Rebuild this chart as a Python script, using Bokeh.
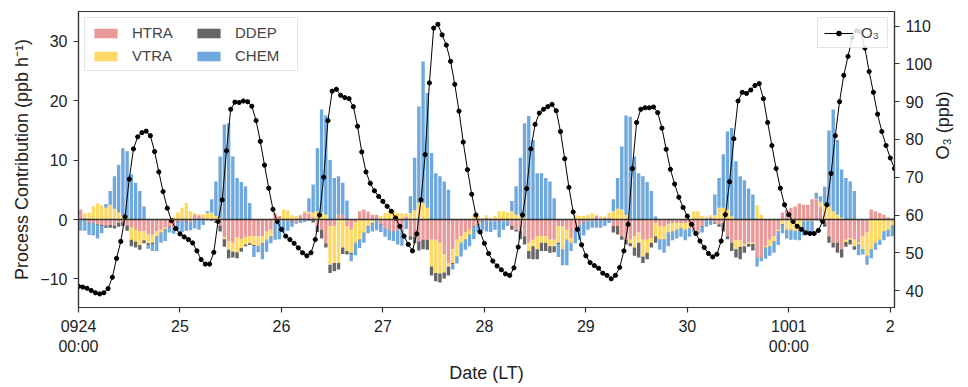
import math
from bokeh.plotting import figure
from bokeh.models import (Range1d, LinearAxis, FixedTicker, Span, Legend,
                          LegendItem, ColumnDataSource)
from bokeh.embed import file_html
from bokeh.resources import INLINE

# ---- data: hourly process contributions (ppb/h), 09-24 00:00 .. 10-02 00:00 ----
HTRA = [1.7, 0.3, -0.6, -0.4, -0.8, -0.9, -1.0, -0.9, -1.0, -0.6, -0.4, -1.0,
        -1.4, -1.7, -2.0, -2.0, -2.5, -2.5, -2.0, -1.7, -1.4, -1.1, -1.6, -0.3,
        -0.2, -0.3, -0.4, 0.8, 0.7, 0.3, 0.2, 0.1, -0.3, -1.0, -3.0, -3.6,
        -3.9, -3.0, -3.3, -3.0, -2.8, -2.8, -2.8, -2.8, -2.0, -1.7, 1.0, 0.6,
        -0.2, -0.2, -0.3, -0.4, 0.7, 1.2, 1.0, 0.4, -1.1, -1.7, -4.0, -1.1,
        -1.1, 0.8, 0.8, -1.1, -1.7, -0.5, 1.4, 1.7, 1.3, 0.8, 0.8, -0.8,
        -1.4, -1.7, -2.0, -1.7, -1.7, 0.5, -2.8, -2.8, -3.7, -3.4, -3.4, -3.4,
        -3.4, -3.9, -5.9, -7.3, -5.0, -3.4, -2.8, -2.2, -1.7, -1.1, -0.8, -0.3,
        0.3, -0.2, -0.2, -0.3, -0.2, -0.2, -1.1, -1.7, -1.9, -2.8, -3.9, -3.4,
        -2.8, -2.8, -2.8, -3.4, -3.4, -1.1, -1.1, -1.7, -3.1, -1.7, -1.0, -0.5,
        -0.2, -0.2, 0.6, 0.2, 0.3, 0.3, -1.1, -1.1, -2.8, -3.4, -3.4, -2.8,
        -2.2, -3.4, -3.4, -3.1, -0.6, -1.1, -1.1, -0.8, -0.6, -0.6, -0.6, -0.6,
        -0.6, -1.7, -2.2, -1.1, 0.2, 0.4, -0.5, -0.8, -0.6, -2.8, -3.9, -3.5,
        -3.5, -4.2, -3.9, -3.9, -6.4, -6.4, -4.5, -3.4, -2.8, -1.7, 1.2, 1.6,
        2.0, 2.2, 2.7, 2.5, 2.5, 3.4, 3.4, 2.2, -0.6, -2.8, -3.9, -3.9,
        -5.0, -3.4, -3.1, -3.4, -3.9, -2.8, -2.2, 1.7, 1.4, 1.1, 0.8, 0.4,
        0.2]
VTRA = [0.0, 0.7, 1.2, 2.2, 2.7, 2.4, 2.0, 2.5, 1.8, 1.2, 0.6, 0.3,
        -2.0, -2.0, -2.3, -1.5, -1.5, -1.4, -0.8, -0.5, -0.2, 0.1, 0.4, 1.2,
        2.0, 2.8, 1.4, 0.3, 0.2, 0.6, 0.9, 1.1, 0.6, 0.2, -0.3, -1.5,
        -1.5, -2.5, -1.5, -1.2, -1.2, -1.5, -1.6, -1.2, -1.4, -1.1, -0.4, -0.2,
        1.7, 1.5, 0.7, 0.6, 0.1, 0.2, 0.3, 0.8, 1.4, 1.2, 0.8, -6.5,
        -6.2, -7.3, -4.7, -4.2, -3.9, -3.4, -3.3, -2.2, -1.1, -0.6, -0.1, 0.6,
        1.1, 1.4, 1.4, 1.1, 1.0, 0.5, 1.1, 1.6, 2.8, 2.8, 2.0, -4.5,
        -5.6, -5.2, -3.0, -0.6, -2.3, -2.8, -1.1, -1.1, -0.8, 0.7, 0.6, 0.2,
        0.4, 0.2, 0.6, 1.4, 1.4, 1.2, 1.4, 0.8, 0.8, 0.3, -1.4, -1.1,
        -2.2, -1.1, -1.1, -1.1, -1.1, -2.8, -3.9, -1.7, -0.8, 0.8, 0.6, 0.6,
        0.8, 1.0, 0.2, 0.3, 0.2, 0.8, 1.4, 1.8, 1.7, 0.8, -0.6, -1.9,
        -1.7, -2.8, -2.2, -0.8, -2.2, -2.2, -2.2, -1.4, -1.4, -1.1, -0.8, -1.1,
        -0.8, 1.4, 1.4, 0.6, 0.3, 0.3, 0.7, 2.0, 2.0, 1.7, 0.5, -1.5,
        -1.1, -0.3, -0.2, -0.2, 2.4, 0.8, -0.2, -1.1, -0.9, -0.3, -0.8, -1.7,
        -1.7, -1.9, -1.7, -0.2, -0.2, -0.2, 0.1, 0.8, 2.5, 2.2, 1.4, 0.8,
        0.3, -0.4, -0.3, -1.1, -0.3, -2.2, -3.9, -5.0, -3.9, -3.4, -2.0, -1.7,
        -1.0]
DDEP = [-0.1, -0.1, -0.1, -0.1, -0.1, -0.2, -0.4, -0.5, -0.5, -0.6, -0.7, -0.9,
        -1.1, -1.0, -0.8, -0.5, -0.3, -0.2, -0.1, -0.1, -0.1, -0.1, -0.1, -0.1,
        -0.1, -0.1, -0.1, -0.1, -0.1, -0.1, -0.1, -0.2, -0.3, -1.0, -1.3, -1.4,
        -1.0, -1.0, -0.6, -0.3, -0.3, -0.2, -0.1, -0.1, -0.1, -0.1, -0.1, -0.1,
        -0.1, -0.1, -0.1, -0.1, -0.1, -0.1, -0.2, -0.5, -1.0, -1.5, -0.7, -1.4,
        -1.4, -1.1, -1.1, -0.6, -0.2, -0.1, -0.1, -0.1, -0.1, -0.1, -0.1, -0.1,
        -0.1, -0.1, -0.1, -0.1, -0.1, -0.1, -0.6, -1.2, -1.5, -1.6, -1.7, -1.5,
        -1.4, -1.5, -1.0, -1.5, -0.2, -0.1, -0.1, -0.1, -0.1, -0.1, -0.1, -0.1,
        -0.1, -0.1, -0.1, -0.1, -0.1, -0.1, -0.6, -0.3, -1.4, -1.4, -1.3, -2.2,
        -1.7, -1.4, -1.4, -1.1, -1.0, -0.2, -0.1, -0.1, -0.1, -0.1, -0.1, -0.1,
        -0.1, -0.1, -0.1, -0.1, -0.1, -0.1, -1.1, -1.4, -0.6, -0.8, -0.5, -1.4,
        -2.5, -1.1, -1.1, -0.8, -1.1, -0.1, -0.1, -0.1, -0.1, -0.1, -0.1, -0.1,
        -0.1, -0.1, -0.1, -0.1, -0.1, -0.1, -0.2, -0.4, -1.4, -0.5, -1.4, -1.4,
        -2.1, -1.1, -0.5, -1.1, -0.1, -0.1, -0.1, -0.1, -0.1, -0.1, -0.1, -0.1,
        -0.1, -0.1, -0.1, -0.1, -0.1, -0.1, -0.1, -0.2, -0.6, -1.1, -0.8, -1.7,
        -1.4, -0.8, -0.8, -0.6, -0.2, -0.1, -0.1, -0.1, -0.1, -0.1, -0.1, -0.1,
        -0.1]
CHEM = [-1.8, -1.8, -1.9, -2.2, -2.3, -1.2, 0.6, 2.3, 5.5, 8.0, 11.4, 11.2,
        7.6, 6.2, 4.8, 2.2, -0.6, -1.2, -2.4, -1.6, -1.9, -1.0, -0.7, -1.5,
        -1.8, -1.5, -1.3, -1.4, -1.6, -0.8, 0.3, 2.2, 5.8, 10.4, 16.0, 16.2,
        10.6, 7.0, 6.3, 5.6, 2.8, -1.8, -1.0, -2.6, -1.9, -1.1, -2.9, -3.0,
        -1.9, -1.6, -0.8, -0.2, -0.5, -0.3, 2.3, 4.7, 10.6, 17.3, 16.7, 10.0,
        7.0, 6.5, 5.4, 3.2, -1.2, -2.0, -1.4, -1.6, -1.1, -1.3, -1.6, -1.2,
        -1.4, -1.7, -1.5, -2.4, -2.6, -1.5, 2.8, 8.8, 16.2, 23.8, 19.3, 11.2,
        7.8, 7.3, 6.4, 5.0, -0.9, -1.1, -2.2, -1.7, -1.9, -2.1, -1.3, -1.4,
        -1.9, -1.8, -1.4, -2.6, -1.4, -0.8, 1.7, 4.8, 9.6, 15.9, 17.4, 13.4,
        7.8, 7.8, 7.0, 6.4, 3.6, -2.2, -2.6, -4.2, -1.3, -2.2, -2.3, -2.1,
        -1.4, -1.1, -1.3, -1.3, -1.0, -0.5, 2.0, 5.2, 10.6, 16.7, 17.3, 10.6,
        7.8, 7.3, 6.3, 4.8, 0.5, -1.7, -2.2, -2.2, -1.4, -1.4, -1.4, -1.7,
        -1.4, -0.3, -0.2, -1.0, -1.1, -0.8, 3.5, 5.0, 9.0, 13.1, 14.9, 9.8,
        7.3, 6.6, 5.2, 4.2, -1.4, -0.5, -1.8, -1.5, -1.8, -2.2, -1.4, -1.4,
        -1.6, -1.4, -1.7, -2.4, -2.1, -2.0, 1.0, 0.9, 3.0, 12.8, 17.1, 12.6,
        8.1, 7.0, 6.4, 4.8, -1.6, -0.8, -1.4, -1.4, -1.1, -0.8, -1.4, -1.1,
        -1.7]
# hourly O3 (ppb), 0924 00:00 .. 1002 01:00
O3 = [41.1, 40.9, 40.6, 40.0, 39.4, 39.1, 39.4, 40.5, 43.5, 48.5, 53.0, 59.5,
      69.5, 77.5, 80.7, 81.8, 82.2, 81.0, 76.8, 71.4, 66.2, 61.8, 58.5, 56.4,
      55.0, 54.2, 53.5, 52.6, 50.5, 48.2, 47.0, 47.0, 50.1, 58.3, 64.0, 77.0,
      88.0, 89.9, 89.8, 90.2, 90.0, 88.8, 85.0, 79.5, 73.2, 67.1, 61.5, 58.3,
      56.2, 54.4, 53.5, 52.5, 51.3, 50.0, 49.2, 50.0, 53.5, 60.0, 70.0, 85.0,
      92.8, 93.3, 91.7, 91.1, 90.8, 88.7, 83.5, 76.7, 71.4, 68.4, 66.4, 64.9,
      63.6, 62.3, 61.0, 59.2, 57.0, 54.4, 52.2, 50.5, 55.0, 64.0, 76.0, 95.0,
      109.5, 110.5, 107.7, 105.0, 100.7, 94.6, 87.5, 79.3, 72.0, 65.5, 60.0, 55.5,
      52.5, 49.8, 47.8, 46.5, 45.5, 44.4, 44.0, 46.0, 51.5, 60.0, 67.0, 77.5,
      84.0, 87.0, 88.0, 88.7, 89.3, 87.6, 82.1, 74.9, 67.3, 60.8, 56.2, 52.1,
      49.2, 47.4, 46.6, 45.9, 44.6, 44.0, 43.1, 44.0, 46.1, 50.5, 57.5, 72.3,
      84.5, 88.0, 88.4, 88.4, 88.6, 87.1, 83.0, 77.4, 72.1, 68.2, 64.7, 62.0,
      59.7, 57.5, 55.1, 53.1, 51.4, 49.8, 48.9, 49.6, 53.1, 60.1, 68.8, 80.2,
      90.2, 92.5, 92.2, 93.1, 94.3, 94.8, 90.8, 84.5, 78.4, 72.3, 67.1, 62.7,
      60.1, 58.3, 57.0, 56.2, 55.3, 55.1, 55.1, 55.9, 58.3, 62.7, 71.0, 81.0,
      90.0, 97.0, 102.0, 107.0, 108.8, 108.5, 104.2, 98.0, 92.5, 86.7, 82.1, 78.4,
      75.1, 72.3]
TICK_HOURS = [0, 24, 48, 72, 96, 120, 144, 168, 192]
TICK_LABELS = ["0924\n00:00", "25", "26", "27", "28", "29", "30", "1001\n00:00", "2"]

SERIES = [("HTRA", HTRA, "#EA9999"), ("VTRA", VTRA, "#FFD966"),
          ("DDEP", DDEP, "#666666"), ("CHEM", CHEM, "#6FA8DC")]

FONT = "Liberation Sans"

# stacked bars: positives stack upward, negatives downward, in series order
n = len(HTRA)
data = {"x": [i + 0.5 for i in range(n)]}
pos = [0.0] * n
neg = [0.0] * n
for name, vals, _ in SERIES:
    bot, top = [], []
    for i, v in enumerate(vals):
        if v >= 0:
            bot.append(pos[i]); top.append(pos[i] + v); pos[i] += v
        else:
            top.append(neg[i]); bot.append(neg[i] + v); neg[i] += v
    data[name + "_bot"] = bot
    data[name + "_top"] = top
src = ColumnDataSource(data)

p = figure(width=966, height=385, output_backend="svg", toolbar_location=None,
           x_range=Range1d(0, len(O3) - 1), y_range=Range1d(-14.8, 35),
           min_border_left=78, min_border_right=72, min_border_top=11,
           min_border_bottom=75)
p.extra_y_ranges = {"o3": Range1d(35.5, 113.9)}
p.xgrid.visible = False
p.ygrid.visible = False
p.outline_line_color = "#333333"
p.outline_line_width = 1.2
p.background_fill_color = "white"
p.border_fill_color = "white"

renderers = {}
for name, _, color in SERIES:
    renderers[name] = p.vbar(x="x", width=0.8, top=name + "_top",
                             bottom=name + "_bot", source=src,
                             fill_color=color, line_color=None)

p.add_layout(Span(location=0, dimension="width", line_color="#333333",
                  line_width=1.5))

hours = list(range(len(O3)))
r_line = p.line(hours, O3, y_range_name="o3", line_color="black",
                line_width=1)
r_pts = p.scatter(hours, O3, y_range_name="o3", size=4.2, marker="circle",
                  fill_color="black", line_color="black")

# axes
def style_axis(ax):
    ax.axis_line_color = "#333333"
    ax.axis_line_width = 1.2
    ax.major_tick_line_color = "#333333"
    ax.major_tick_line_width = 1.2
    ax.major_tick_out = 5
    ax.major_tick_in = 0
    ax.minor_tick_line_color = None
    ax.major_label_text_font = FONT
    ax.major_label_text_font_size = "16px"
    ax.major_label_text_color = "#222222"
    ax.axis_label_text_font = FONT
    ax.axis_label_text_font_size = "18px"
    ax.axis_label_text_font_style = "normal"
    ax.axis_label_text_color = "#222222"

xa = p.xaxis[0]
xa.ticker = FixedTicker(ticks=TICK_HOURS)
xa.major_label_overrides = {h: lab for h, lab in zip(TICK_HOURS, TICK_LABELS)}
xa.axis_label = "Date (LT)"
style_axis(xa)

ya = p.yaxis[0]
ya.ticker = FixedTicker(ticks=[-10, 0, 10, 20, 30])
ya.axis_label = "Process Contribution (ppb h\u207b\u00b9)"
style_axis(ya)
ya.major_label_standoff = 6

ra = LinearAxis(y_range_name="o3", axis_label="O\u2083 (ppb)",
                ticker=FixedTicker(ticks=[40, 50, 60, 70, 80, 90, 100, 110]))
style_axis(ra)
ra.major_label_standoff = 6
ra.axis_label_standoff = 8
if "axis_label_orientation" in ra.properties():
    ra.axis_label_orientation = math.pi / 2
p.add_layout(ra, "right")

leg1 = Legend(items=[LegendItem(label=nm, renderers=[renderers[nm]])
                     for nm, _, _ in SERIES],
              location="top_left", ncols=2)
leg2 = Legend(items=[LegendItem(label="O\u2083", renderers=[r_line, r_pts])],
              location="top_right")
for lg in (leg1, leg2):
    lg.margin = 6
    lg.padding = 6
    lg.spacing = 6
    lg.label_standoff = 12
    lg.glyph_width = 29
    lg.glyph_height = 12
    lg.label_height = 16
    lg.label_text_font = FONT
    lg.label_text_font_size = "15px"
    lg.border_line_color = "#cccccc"
    lg.border_line_width = 1
    lg.background_fill_alpha = 0.85
leg1.label_width = 56
leg2.label_standoff = 8
p.add_layout(leg1)
p.add_layout(leg2)

open("out.html", "w").write(file_html(p, INLINE))
